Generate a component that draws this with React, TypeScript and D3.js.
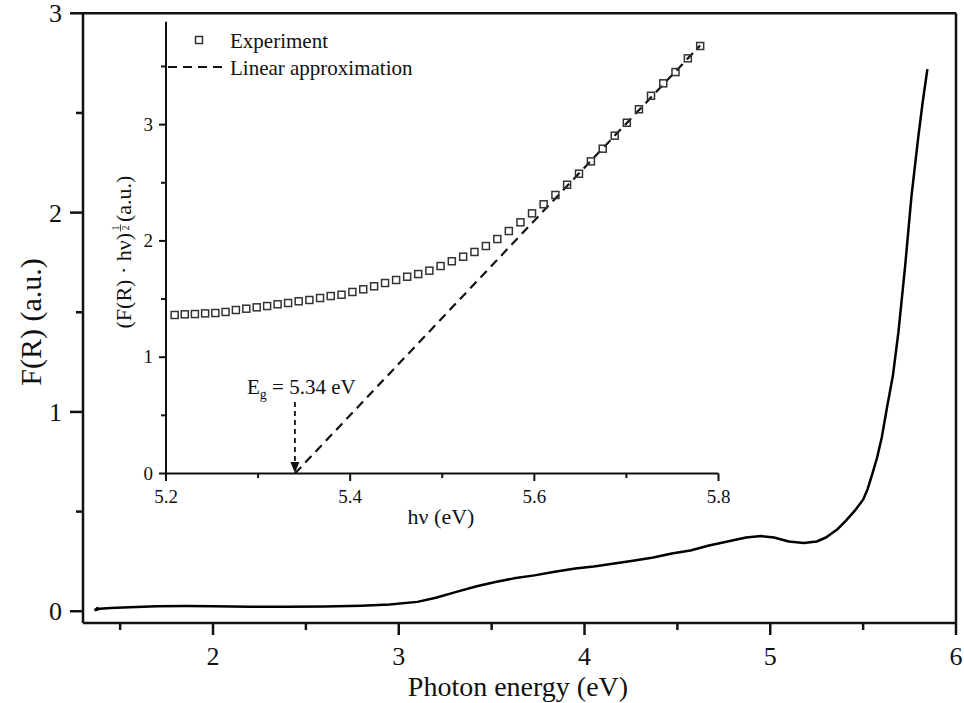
import React from 'react';
import { scaleLinear, line } from 'd3';

// main spectrum, F(R) vs photon energy
const mainEnergy = [1.372, 1.366, 1.378, 1.371, 1.39, 1.45, 1.55, 1.7, 1.85, 2.0, 2.2, 2.4, 2.6, 2.8, 2.95, 3.1, 3.2, 3.31, 3.42, 3.52, 3.62, 3.73, 3.84, 3.95, 4.05, 4.16, 4.27, 4.37, 4.47, 4.57, 4.67, 4.77, 4.87, 4.95, 5.02, 5.1, 5.18, 5.25, 5.3, 5.36, 5.41, 5.46, 5.5, 5.525, 5.55, 5.575, 5.6, 5.63, 5.66, 5.69, 5.726, 5.76, 5.797, 5.82, 5.846];
const mainFR = [0.003, 0.008, 0.016, 0.006, 0.013, 0.016, 0.02, 0.025, 0.026, 0.025, 0.023, 0.022, 0.024, 0.028, 0.034, 0.047, 0.068, 0.097, 0.125, 0.147, 0.165, 0.18, 0.198, 0.214, 0.225, 0.24, 0.255, 0.27, 0.29, 0.305, 0.33, 0.35, 0.37, 0.377, 0.37, 0.35, 0.342, 0.35, 0.37, 0.41, 0.457, 0.51, 0.56, 0.615, 0.69, 0.77, 0.87, 1.03, 1.18, 1.4, 1.73, 2.08, 2.38, 2.55, 2.72];

// inset, (F(R)·hv)^1/2 vs hv
const insetEnergy = [5.2094, 5.2204, 5.2314, 5.2425, 5.2536, 5.2647, 5.2759, 5.2872, 5.2985, 5.3098, 5.3212, 5.3326, 5.3441, 5.3557, 5.3673, 5.3789, 5.3906, 5.4024, 5.4142, 5.426, 5.4379, 5.4499, 5.4619, 5.4739, 5.486, 5.4982, 5.5104, 5.5227, 5.535, 5.5474, 5.5598, 5.5723, 5.5849, 5.5975, 5.6101, 5.6229, 5.6356, 5.6485, 5.6614, 5.6743, 5.6873, 5.7004, 5.7136, 5.7267, 5.74, 5.7533, 5.7667, 5.7801];
const insetValue = [1.363, 1.369, 1.371, 1.377, 1.38, 1.389, 1.406, 1.417, 1.429, 1.44, 1.455, 1.466, 1.481, 1.492, 1.509, 1.526, 1.537, 1.561, 1.584, 1.61, 1.638, 1.664, 1.692, 1.715, 1.744, 1.784, 1.825, 1.864, 1.905, 1.956, 2.016, 2.085, 2.16, 2.237, 2.315, 2.395, 2.483, 2.578, 2.684, 2.793, 2.905, 3.016, 3.132, 3.248, 3.355, 3.452, 3.57, 3.676];
const fitEnergy = [5.34, 5.78];
const fitValue = [0, 3.68];
const bandGap = 5.34;

const mainXTicks = [2, 3, 4, 5, 6];
const mainXMinor = [1.5, 2.5, 3.5, 4.5, 5.5];
const mainYTicks = [0, 1, 2, 3];
const mainYMinor = [0.5, 1.5, 2.5];
const insetXTicks = [5.2, 5.4, 5.6, 5.8];
const insetXMinor = [5.3, 5.5, 5.7];
const insetYTicks = [0, 1, 2, 3];
const insetYMinor = [0.5, 1.5, 2.5, 3.5];

const FONT = '"Liberation Serif", "Times New Roman", serif';

export default function App() {
    const width = 964, height = 703;

    const x = scaleLinear().domain([1.30, 6]).range([83, 956]);
    const y = scaleLinear().domain([-0.059, 3]).range([623, 13.3]);

    const ix = scaleLinear().domain([5.2, 5.8]).range([166, 718.5]);
    const iy = scaleLinear().domain([0, 3.885]).range([473.5, 21.7]);

    const mainPath = line<number>().x((d, i) => x(mainEnergy[i])).y(d => y(d))(mainFR);
    const fitPath = line<number>().x((d, i) => ix(fitEnergy[i])).y(d => iy(d))(fitValue);

    const fracX = 15;

    return (
        <svg width={width} height={height} style={{ position: 'absolute', left: 0, top: 0, background: '#fff' }} fontFamily={FONT}>
            {/* main frame */}
            <g stroke="#111" strokeWidth={2.5} fill="none">
                <line x1={x.range()[0]} x2={x.range()[1]} y1={y.range()[1]} y2={y.range()[1]} />
                <line x1={x.range()[1]} x2={x.range()[1]} y1={y.range()[0]} y2={y.range()[1]} />
                <line x1={x.range()[0]} x2={x.range()[1]} y1={y.range()[0]} y2={y.range()[0]} />
                <line x1={x.range()[0]} x2={x.range()[0]} y1={y.range()[0]} y2={y.range()[1]} />
                {mainXTicks.map(t => <line key={'xt' + t} x1={x(t)} x2={x(t)} y1={623} y2={635} />)}
                {mainXMinor.map(t => <line key={'xm' + t} x1={x(t)} x2={x(t)} y1={623} y2={630} />)}
                {mainYTicks.map(t => <line key={'yt' + t} x1={70} x2={83} y1={y(t)} y2={y(t)} />)}
                {mainYMinor.map(t => <line key={'ym' + t} x1={76} x2={83} y1={y(t)} y2={y(t)} />)}
            </g>
            {mainXTicks.map(t => (
                <text key={'xl' + t} x={x(t)} y={665} fontSize={26} textAnchor="middle" fill="#111">{t}</text>
            ))}
            {mainYTicks.map(t => (
                <text key={'yl' + t} x={62} y={y(t) + 9} fontSize={26} textAnchor="end" fill="#111">{t}</text>
            ))}
            <text x={518} y={696} fontSize={28} textAnchor="middle" fill="#111">Photon energy (eV)</text>
            <text transform="translate(41, 322) rotate(-90)" fontSize={30} textAnchor="middle" fill="#111">F(R) (a.u.)</text>

            <path d={mainPath || ''} fill="none" stroke="#000" strokeWidth={2.5} strokeLinejoin="round" />

            {/* inset axes */}
            <g stroke="#111" strokeWidth={2} fill="none">
                <line x1={ix.range()[0]} x2={ix.range()[1]} y1={iy(0)} y2={iy(0)} />
                <line x1={ix.range()[0]} x2={ix.range()[0]} y1={iy.range()[0]} y2={iy.range()[1]} />
                {insetXTicks.map(t => <line key={'ixt' + t} x1={ix(t)} x2={ix(t)} y1={473.5} y2={481} />)}
                {insetXMinor.map(t => <line key={'ixm' + t} x1={ix(t)} x2={ix(t)} y1={473.5} y2={478} />)}
                {insetYTicks.map(t => <line key={'iyt' + t} x1={159} x2={166} y1={iy(t)} y2={iy(t)} />)}
                {insetYMinor.map(t => <line key={'iym' + t} x1={161} x2={166} y1={iy(t)} y2={iy(t)} />)}
            </g>
            {insetXTicks.map(t => (
                <text key={'ixl' + t} x={ix(t)} y={503} fontSize={19} textAnchor="middle" fill="#111">{t.toFixed(1)}</text>
            ))}
            {insetYTicks.map(t => (
                <text key={'iyl' + t} x={153} y={iy(t) + 6} fontSize={19} textAnchor="end" fill="#111">{t}</text>
            ))}
            <text x={441} y={524} fontSize={22} textAnchor="middle" fill="#111">hν (eV)</text>
            <g transform="translate(131, 248) rotate(-90)" fill="#111">
                <text x={fracX} y={0} fontSize={22} textAnchor="end">(F(R) · hν)</text>
                <text x={fracX + 5} y={-12} fontSize={10} textAnchor="middle">1</text>
                <line x1={fracX + 1.5} x2={fracX + 8.5} y1={-10.5} y2={-10.5} stroke="#111" strokeWidth={0.8} />
                <text x={fracX + 5} y={-2} fontSize={10} textAnchor="middle">2</text>
                <text x={fracX + 11} y={0} fontSize={22} textAnchor="start"> (a.u.)</text>
            </g>

            {/* linear fit */}
            <path d={fitPath || ''} fill="none" stroke="#111" strokeWidth={2.2} strokeDasharray="9,6" />

            {/* experiment squares */}
            {insetValue.map((v, i) => (
                <rect key={'sq' + i} x={ix(insetEnergy[i]) - 3.5} y={iy(v) - 3.5} width={7} height={7}
                    fill="none" stroke="#333" strokeWidth={1.5} />
            ))}

            {/* band gap arrow */}
            <line x1={ix(bandGap)} x2={ix(bandGap)} y1={402} y2={463} stroke="#111" strokeWidth={1.8} strokeDasharray="5,4" />
            <path d={`M${ix(bandGap) - 4.5},${462} L${ix(bandGap) + 4.5},${462} L${ix(bandGap)},${473} Z`} fill="#111" />
            <text x={247} y={394} fontSize={21} fill="#111">
                <tspan>E</tspan>
                <tspan fontSize={14} dy={5}>g</tspan>
                <tspan dy={-5}> = 5.34 eV</tspan>
            </text>

            {/* legend */}
            <rect x={195.5} y={36.5} width={7} height={7} fill="none" stroke="#333" strokeWidth={1.5} />
            <text x={230} y={48} fontSize={21} fill="#111">Experiment</text>
            <line x1={168} x2={222} y1={67} y2={67} stroke="#111" strokeWidth={2.2} strokeDasharray="9,6" />
            <text x={230} y={75} fontSize={21} fill="#111">Linear approximation</text>
        </svg>
    );
}
